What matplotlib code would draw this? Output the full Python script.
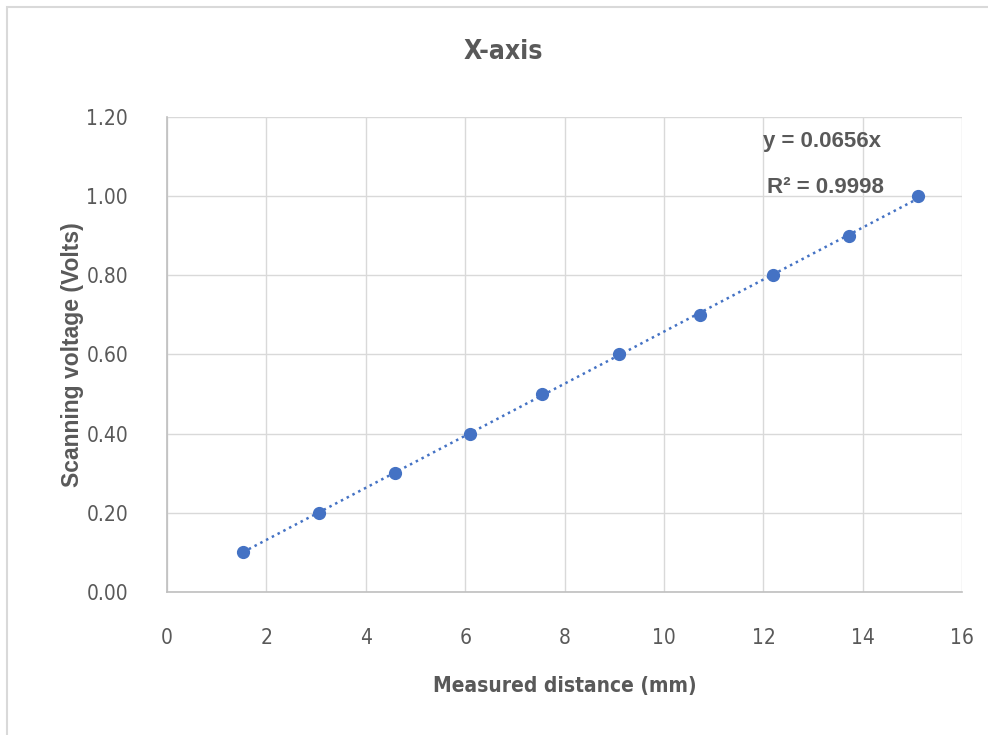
import numpy as np
import matplotlib.pyplot as plt
from matplotlib.patches import Rectangle
from matplotlib import font_manager

# data
distance_mm = [1.53, 3.06, 4.59, 6.10, 7.55, 9.09, 10.72, 12.19, 13.72, 15.11]
voltage_v = [0.10, 0.20, 0.30, 0.40, 0.50, 0.60, 0.70, 0.80, 0.90, 1.00]
x_ticks = [0, 2, 4, 6, 8, 10, 12, 14, 16]
y_ticks = [0.0, 0.2, 0.4, 0.6, 0.8, 1.0, 1.2]
slope_label = 0.0656
r2_label = 0.9998

# condensed face if the system has one
cond = [f for f in font_manager.fontManager.ttflist
        if f.name == 'DejaVu Sans' and f.stretch == 'condensed']
narrow = dict(family='DejaVu Sans', stretch='condensed') if cond else dict(family='Liberation Sans')

blue = '#4472C4'
txt = '#595959'
grid_c = '#D9D9D9'

fig = plt.figure(figsize=(9.88, 7.35), dpi=100)
ax = fig.add_axes([0.169, 0.1946, 0.805, 0.6463])

# trendline through origin (least squares), spanning the data range
x = np.array(distance_mm)
y = np.array(voltage_v)
k = np.sum(x * y) / np.sum(x * x)
xl = np.array([x.min(), x.max()])
ax.plot(xl, k * xl, color=blue, linestyle=(0, (1, 1.6)), linewidth=1.8, zorder=2)

ax.plot(distance_mm, voltage_v, 'o', color=blue, markersize=8.5, zorder=3)

ax.set_xlim(0, 16)
ax.set_ylim(0, 1.2)
ax.set_xticks(x_ticks)
ax.set_yticks(y_ticks)
ax.set_yticklabels([f'{v:.2f}' for v in y_ticks])
ax.tick_params(length=0, labelsize=15, labelcolor=txt)
ax.tick_params(axis='x', pad=26)
ax.tick_params(axis='y', pad=28)
for lab in ax.get_xticklabels() + ax.get_yticklabels():
    lab.set(**narrow)

ax.grid(True, color=grid_c, linewidth=1)
ax.set_axisbelow(True)
for s in ['top', 'right']:
    ax.spines[s].set_visible(False)
for s in ['left', 'bottom']:
    ax.spines[s].set_color('#BFBFBF')
    ax.spines[s].set_linewidth(1.2)

fig.text(503 / 988, 1 - 52 / 735, 'X-axis', fontsize=19, fontweight='bold',
         color=txt, ha='center', va='center', **narrow)
ax.set_xlabel('Measured distance (mm)', fontsize=15, fontweight='bold',
              color=txt, labelpad=20, **narrow)
ax.set_ylabel('Scanning voltage (Volts)', fontsize=16.5, fontweight='bold',
              color=txt, family='Liberation Sans', labelpad=2)

ax.text(12.0, 1.139, f'y = {slope_label}x', fontsize=16, fontweight='bold',
        color=txt, family='Liberation Sans', va='center', ha='left')
ax.text(12.07, 1.021, f'R² = {r2_label}', fontsize=16, fontweight='bold',
        color=txt, family='Liberation Sans', va='center', ha='left')

# chart frame
fig.patches.append(Rectangle((7 / 988, -0.01), 1.02, 1 - 7 / 735 + 0.01,
                             transform=fig.transFigure, fill=False,
                             edgecolor='#D9D9D9', linewidth=1.5))

fig.savefig('out.png', dpi=100)
